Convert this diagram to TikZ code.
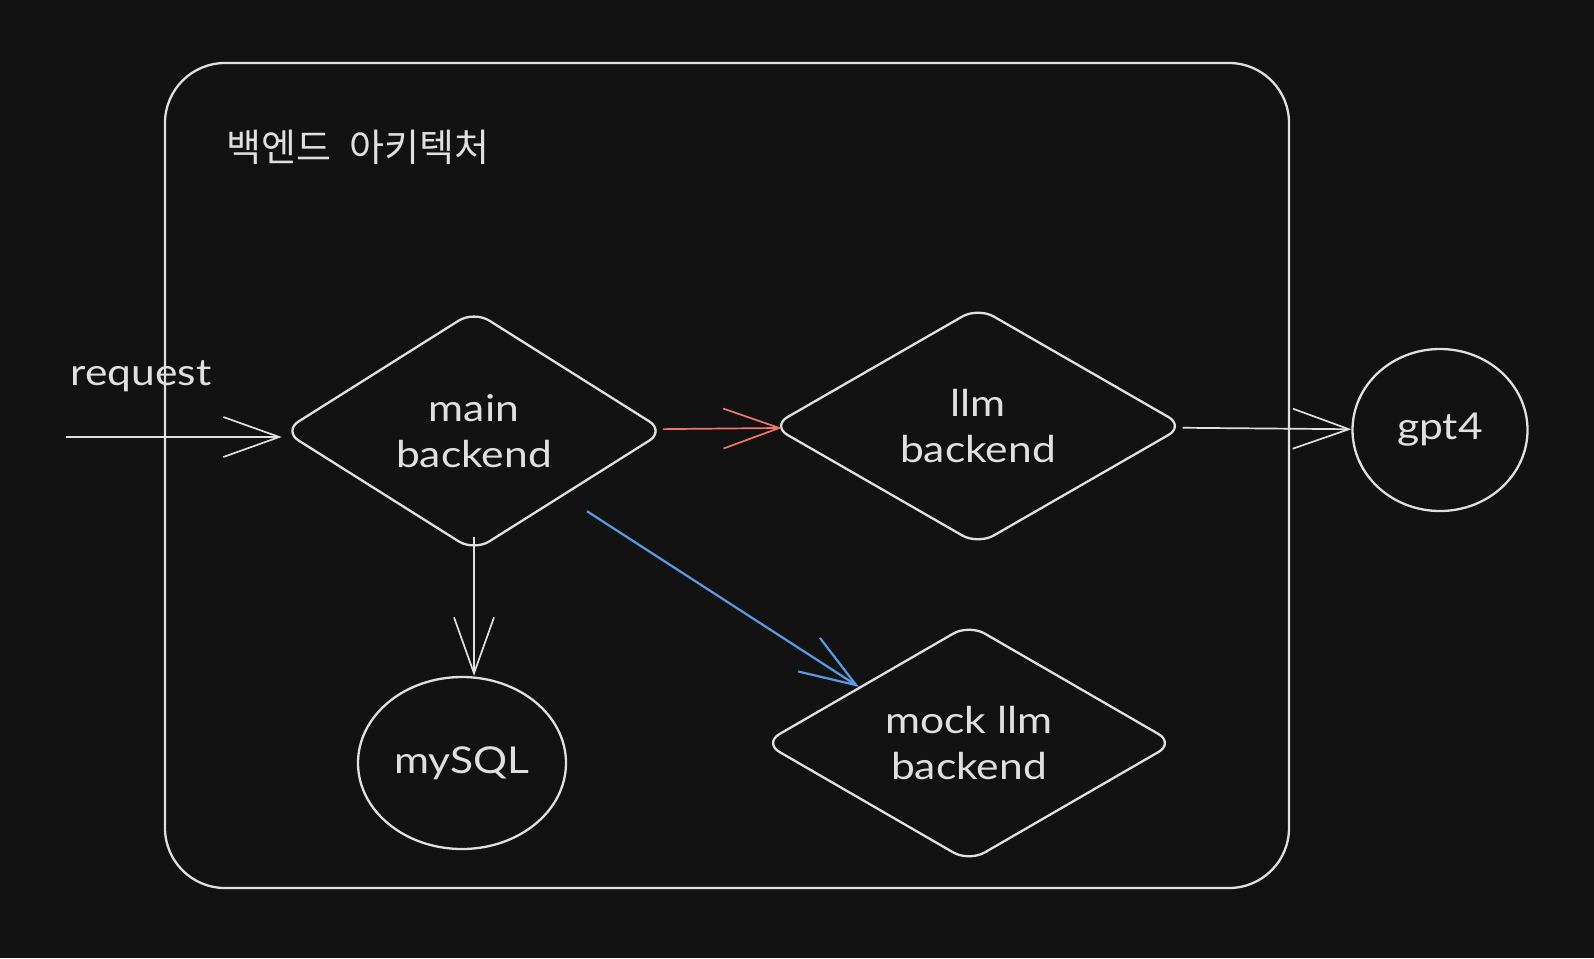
\documentclass[tikz,border=0pt]{standalone}
\usepackage{fontspec}
\setmainfont{Lato}
\newfontfamily\handfont[FakeStretch=1.15]{Lato}
\newfontfamily\krfont{Noto Sans CJK KR}
\usetikzlibrary{shapes.geometric,arrows.meta}
\definecolor{bg}{HTML}{121212}
\definecolor{ink}{HTML}{E0E0E0}
\definecolor{redink}{HTML}{F2766B}
\definecolor{blueink}{HTML}{5B9BE6}
\tikzset{
  hand/.style={text=ink, font=\handfont\fontsize{18.5}{23}\selectfont, align=center},
  dia/.style={diamond, draw=ink, line width=1.15pt, rounded corners=9pt, inner sep=0pt, aspect=1.6, hand},
  oval/.style={ellipse, draw=ink, line width=1.15pt, inner sep=0pt, hand},
  arr/.style={draw=ink, line width=0.85pt, -{Straight Barb[length=28pt,width=20pt]}},
  frame/.style={draw=ink, line width=1.15pt, rounded corners=30pt}
}
\begin{document}
\begin{tikzpicture}[x=0.5pt,y=-0.5pt]
\fill[bg] (0,0) rectangle (1594,958);
\useasboundingbox (0,0) rectangle (1594,958);
\draw[frame] (165,63) rectangle (1289,888);
\node[text=ink, font=\krfont\fontsize{19}{22}\selectfont] (title) at (358,147) {백엔드\hspace{9pt}아키텍처};
\node[hand] (reqlabel) at (141,376) {request};
\node[dia, minimum width=191pt, minimum height=120.5pt] (main) at (474,431) {main\\backend};
\node[dia, minimum width=206.5pt, minimum height=119pt] (llm) at (978,426) {llm\\backend};
\node[dia, minimum width=205.5pt, minimum height=119pt] (mock) at (969,743) {mock llm\\backend};
\node[oval, minimum width=104pt, minimum height=86pt] (mysql) at (462,763) {mySQL};
\node[oval, minimum width=87.5pt, minimum height=81pt] (gpt4) at (1440,430) {gpt4};
\coordinate (reqs) at (66,437);
\draw[arr] (reqs) -- (reqs -| main.west);
\draw[arr, draw=redink, shorten >=-4pt] (main) -- (llm);
\draw[arr, draw=blueink, line width=1.1pt, shorten <=14pt] (main.-36) -- (mock.153);
\draw[arr, shorten <=-8pt] (main.south) -- (main.south |- mysql.north);
\draw[arr] (llm) -- (gpt4);
\end{tikzpicture}
\end{document}
